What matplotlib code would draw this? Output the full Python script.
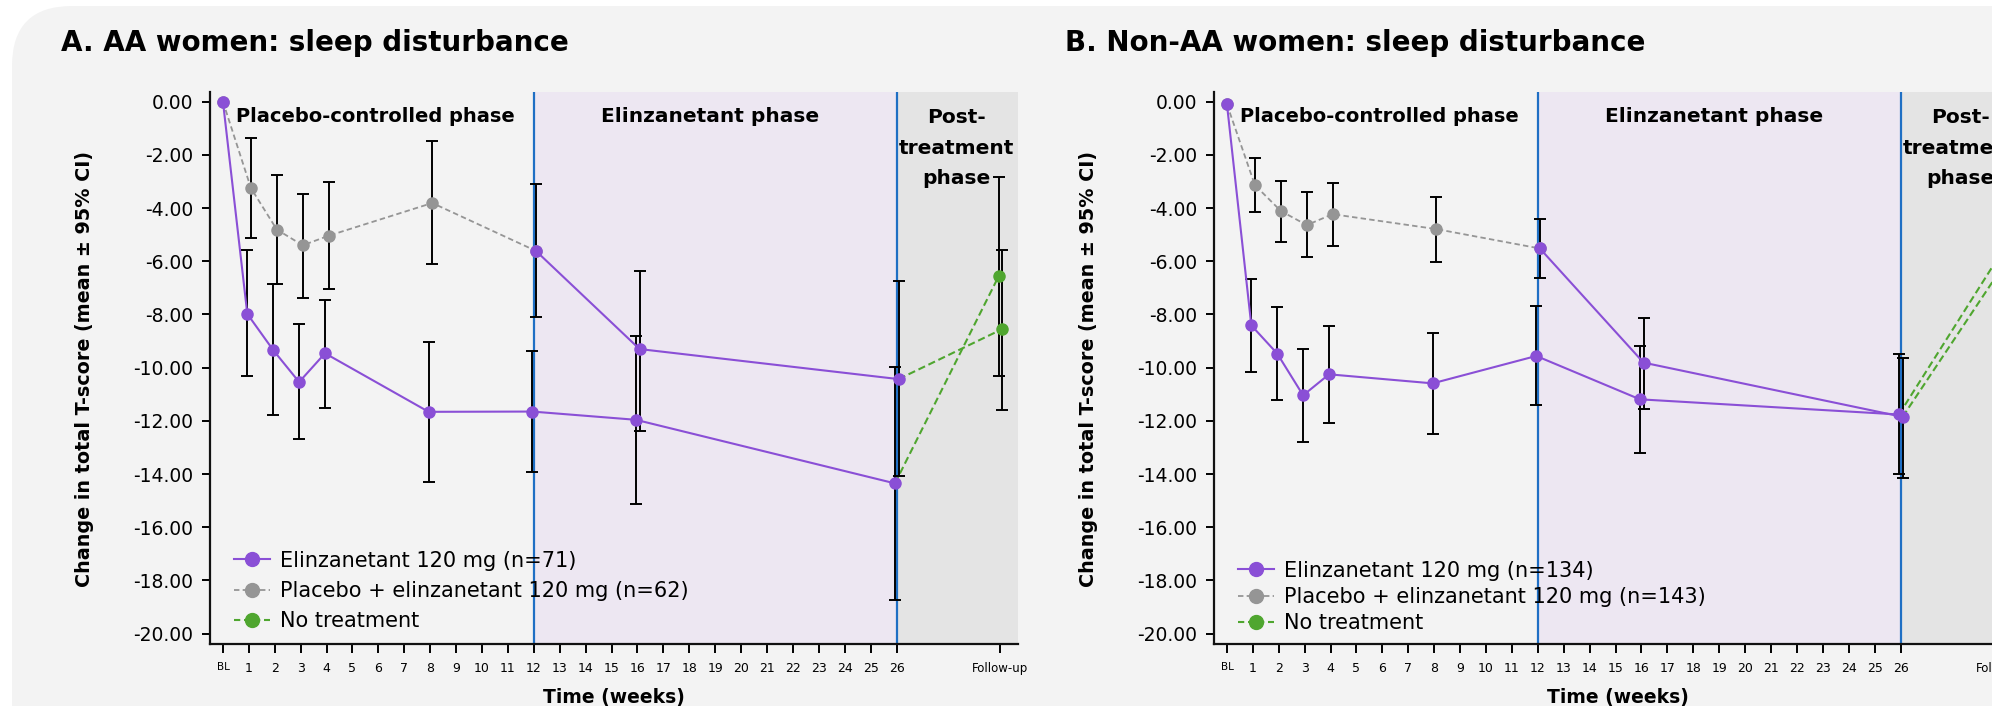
import numpy as np
import matplotlib
matplotlib.use("Agg")
import matplotlib.pyplot as plt
from matplotlib.lines import Line2D
from matplotlib.patches import FancyBboxPatch
from matplotlib.transforms import IdentityTransform

plt.rcParams['font.family'] = ['DejaVu Sans']

# ---- data ----
weeks = [0, 1, 2, 3, 4, 8, 12, 16, 26]
weeks_pbo = [0, 1, 2, 3, 4, 8, 12]
weeks_switch = [12, 16, 26]
follow_up = 30

tick_pos = list(range(27)) + [follow_up]
tick_lbl = ['BL'] + [str(i) for i in range(1, 27)] + ['Follow-up']
y_ticks = [0, -2, -4, -6, -8, -10, -12, -14, -16, -18, -20]

titles = ['A. AA women: sleep disturbance', 'B. Non-AA women: sleep disturbance']
legend_a = ['Elinzanetant 120 mg (n=71)', 'Placebo + elinzanetant 120 mg (n=62)', 'No treatment']
legend_b = ['Elinzanetant 120 mg (n=134)', 'Placebo + elinzanetant 120 mg (n=143)', 'No treatment']

# panel A
a_eli = [0, -7.98, -9.34, -10.54, -9.46, -11.66, -11.65, -11.96, -14.35]
a_eli_lo = [np.nan, -10.31, -11.78, -12.69, -11.53, -14.29, -13.93, -15.12, -18.72]
a_eli_hi = [np.nan, -5.59, -6.85, -8.35, -7.46, -9.03, -9.38, -8.80, -9.98]
a_pbo = [0, -3.25, -4.81, -5.40, -5.04, -3.81, -5.61]
a_pbo_lo = [np.nan, -5.14, -6.84, -7.38, -7.05, -6.09, -8.11]
a_pbo_hi = [np.nan, -1.35, -2.75, -3.46, -3.01, -1.48, -3.10]
a_sw = [-5.61, -9.30, -10.43]
a_sw_lo = [np.nan, -12.37, -14.09]
a_sw_hi = [np.nan, -6.36, -6.74]
a_fu_eli, a_fu_eli_lo, a_fu_eli_hi = -6.57, -10.33, -2.82
a_fu_sw, a_fu_sw_lo, a_fu_sw_hi = -8.55, -11.58, -5.57

# panel B
b_eli = [-0.1, -8.41, -9.47, -11.04, -10.25, -10.59, -9.56, -11.19, -11.76]
b_eli_lo = [np.nan, -10.15, -11.21, -12.78, -12.08, -12.50, -11.42, -13.21, -14.01]
b_eli_hi = [np.nan, -6.67, -7.71, -9.31, -8.43, -8.68, -7.68, -9.17, -9.50]
b_pbo = [-0.1, -3.14, -4.11, -4.64, -4.23, -4.79, -5.52]
b_pbo_lo = [np.nan, -4.16, -5.26, -5.83, -5.43, -6.04, -6.63]
b_pbo_hi = [np.nan, -2.13, -2.98, -3.41, -3.05, -3.58, -4.42]
b_sw = [-5.52, -9.81, -11.85]
b_sw_lo = [np.nan, -11.55, -14.13]
b_sw_hi = [np.nan, -8.15, -9.65]
b_fu_eli, b_fu_eli_lo, b_fu_eli_hi = -5.6, -8.3, -2.9
b_fu_sw, b_fu_sw_lo, b_fu_sw_hi = -6.0, -8.6, -3.4

PURPLE = '#8a4fd6'
GREY = '#959595'
GREEN = '#4fa62f'
BLUE = '#1f6fc4'
BG = '#f3f3f3'

fig = plt.figure(figsize=(19.92, 7.06), dpi=100, facecolor='white')
bg = FancyBboxPatch((12, -100), 2200, 800, boxstyle='round,pad=0,rounding_size=60',
                    transform=IdentityTransform(), facecolor=BG, edgecolor='none', zorder=-10)
fig.patches.append(bg)

D_ELI, D_PBO = -0.06, 0.08


def ci(mean, lo, hi):
    mean = np.array(mean, float)
    return np.vstack([mean - np.array(lo, float), np.array(hi, float) - mean])


def dodge(x, d):
    x = np.array(x, float)
    return np.where(x > 0, x + d, x)


def panel(left, title, legend_labels, eli, eli_lo, eli_hi, pbo, pbo_lo, pbo_hi,
          sw, sw_lo, sw_hi, fu_eli, fu_eli_ci, fu_sw, fu_sw_ci, labelspacing, leg_y):
    ax = fig.add_axes([left, 0.0885, 0.4055, 0.7807])
    ax.patch.set_visible(False)
    ax.set_xlim(-0.5, 30.68)
    ax.set_ylim(-20.37, 0.35)

    ax.axvspan(12, 26, color='#ede7f2', zorder=0, lw=0)
    ax.axvspan(26, 31, color='#e4e4e4', zorder=0, lw=0)
    ax.axvline(12, color=BLUE, lw=1.6, zorder=1)
    ax.axvline(26, color=BLUE, lw=1.6, zorder=1)

    xe = dodge(weeks, D_ELI)
    xp = dodge(weeks_pbo, D_PBO)
    xs = dodge(weeks_switch, D_PBO)
    eb = dict(fmt='none', ecolor='black', elinewidth=1.4, capsize=4.5, capthick=1.4, zorder=3)

    ax.errorbar(xe, eli, yerr=ci(eli, eli_lo, eli_hi), **eb)
    ax.errorbar(xp, pbo, yerr=ci(pbo, pbo_lo, pbo_hi), **eb)
    ax.errorbar(xs, sw, yerr=ci(sw, sw_lo, sw_hi), **eb)
    ax.errorbar([follow_up + D_ELI, follow_up + D_PBO], [fu_eli, fu_sw],
                yerr=ci([fu_eli, fu_sw], [fu_eli_ci[0], fu_sw_ci[0]], [fu_eli_ci[1], fu_sw_ci[1]]), **eb)

    # no-treatment links
    ax.plot([xe[-1], follow_up + D_ELI], [eli[-1], fu_eli], color=GREEN, lw=1.5,
            ls=(0, (3.5, 1.8)), zorder=2)
    ax.plot([xs[-1], follow_up + D_PBO], [sw[-1], fu_sw], color=GREEN, lw=1.5,
            ls=(0, (3.5, 1.8)), zorder=2)
    ax.plot([follow_up + D_ELI, follow_up + D_PBO], [fu_eli, fu_sw], ls='none', marker='o',
            ms=8, color=GREEN, zorder=5)

    ax.plot(xp, pbo, color=GREY, lw=1.3, ls=(0, (3, 1.8)), marker='o', ms=8, zorder=4)
    ax.plot(xs, sw, color=PURPLE, lw=1.5, marker='o', ms=8, zorder=4)
    ax.plot(xe, eli, color=PURPLE, lw=1.5, marker='o', ms=8, zorder=4)

    bold = dict(fontweight='bold', ha='center', va='center', zorder=6)
    ax.text(5.9, -0.55, 'Placebo-controlled phase', fontsize=14, **bold)
    ax.text(18.8, -0.55, 'Elinzanetant phase', fontsize=14.5, **bold)
    ax.text(28.3, -1.75, 'Post-\ntreatment\nphase', linespacing=1.75, fontsize=14.5, **bold)

    for s in ['top', 'right']:
        ax.spines[s].set_visible(False)
    for s in ['left', 'bottom']:
        ax.spines[s].set_linewidth(1.6)
        ax.spines[s].set_color('#111111')

    ax.set_yticks(y_ticks, [f'{v:.2f}' for v in y_ticks])
    ax.set_xticks(tick_pos, tick_lbl)
    ax.tick_params(axis='y', labelsize=13.5, length=6, width=1.4, pad=6)
    ax.tick_params(axis='x', labelsize=9, length=6.5, width=1.4, pad=7)
    for t in ax.get_xticklabels():
        if t.get_text() == 'BL':
            t.set_fontsize(7.5)
        elif t.get_text() == 'Follow-up':
            t.set_fontsize(8.5)

    handles = [
        Line2D([], [], color=PURPLE, lw=1.5, marker='o', ms=10),
        Line2D([], [], color=GREY, lw=1.3, ls=(0, (3, 1.8)), marker='o', ms=10),
        Line2D([], [], color=GREEN, lw=1.5, ls=(0, (3, 1.8)), marker='o', ms=10),
    ]
    ax.legend(handles, legend_labels, loc='lower left', bbox_to_anchor=(0.03, leg_y),
              frameon=False, fontsize=15, borderpad=0, borderaxespad=0,
              handlelength=1.7, handletextpad=0.5, labelspacing=labelspacing)

    fig.text(left - 126 / 1992, 0.0885 + 0.7807 / 2 - 0.002, 'Change in total T-score (mean ± 95% CI)',
             rotation=90, ha='center', va='center', fontsize=13.8, fontweight='bold')
    fig.text(left + 0.4055 / 2, 1 - 697 / 706, 'Time (weeks)', ha='center', va='center',
             fontsize=13.5, fontweight='bold')
    fig.text(left - 149 / 1992, 1 - 43 / 706, title, ha='left', va='center',
             fontsize=20, fontweight='bold')
    return ax


panel(210 / 1992, titles[0], legend_a, a_eli, a_eli_lo, a_eli_hi, a_pbo, a_pbo_lo, a_pbo_hi,
      a_sw, a_sw_lo, a_sw_hi, a_fu_eli, (a_fu_eli_lo, a_fu_eli_hi), a_fu_sw, (a_fu_sw_lo, a_fu_sw_hi),
      0.5, 0.022)
panel(1214 / 1992, titles[1], legend_b, b_eli, b_eli_lo, b_eli_hi, b_pbo, b_pbo_lo, b_pbo_hi,
      b_sw, b_sw_lo, b_sw_hi, b_fu_eli, (b_fu_eli_lo, b_fu_eli_hi), b_fu_sw, (b_fu_sw_lo, b_fu_sw_hi),
      0.3, 0.019)

fig.savefig('out.png', dpi=100, facecolor=fig.get_facecolor())
